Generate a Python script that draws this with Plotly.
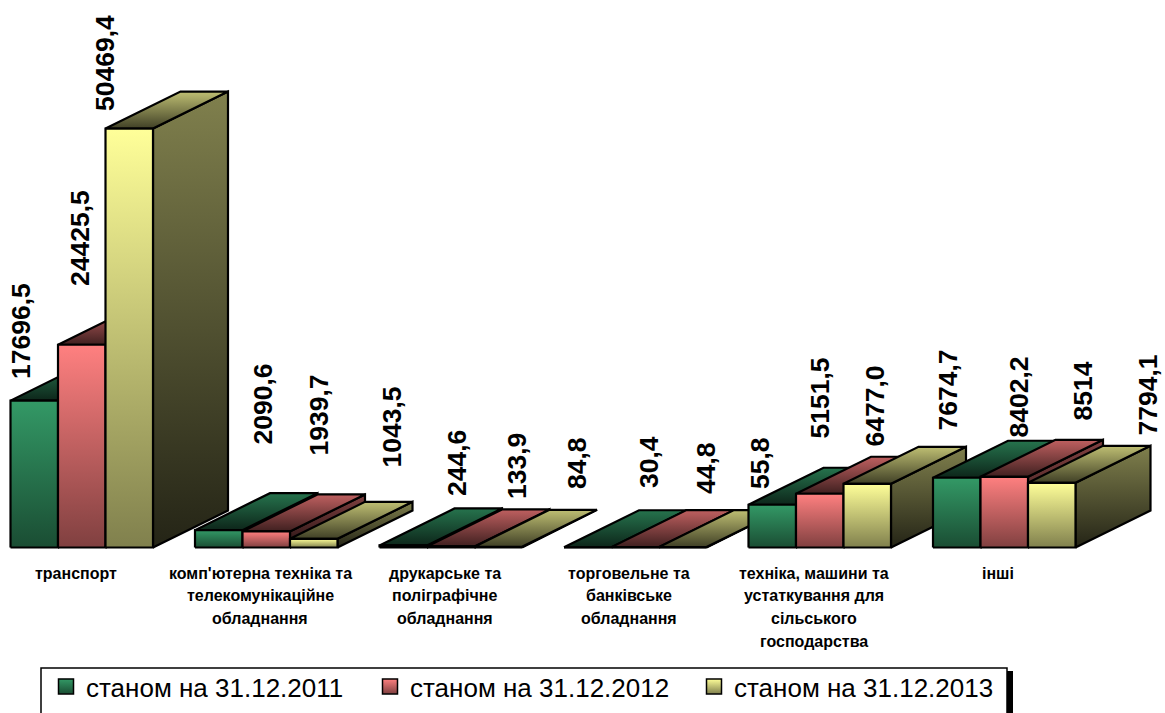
import plotly.graph_objects as go

categories = [
    ["транспорт"],
    ["комп'ютерна техніка та", "телекомунікаційне", "обладнання"],
    ["друкарське та", "поліграфічне", "обладнання"],
    ["торговельне та", "банківське", "обладнання"],
    ["техніка, машини та", "устаткування для", "сільського", "господарства"],
    ["інші"],
]
series_names = ["станом на 31.12.2011", "станом на 31.12.2012", "станом на 31.12.2013"]
s2011 = [17696.5, 2090.6, 244.6, 30.4, 5151.5, 8402.2]
s2012 = [24425.5, 1939.7, 133.9, 44.8, 6477.0, 8514.0]
s2013 = [50469.4, 1043.5, 84.8, 55.8, 7674.7, 7794.1]
labels2011 = ["17696,5", "2090,6", "244,6", "30,4", "5151,5", "8402,2"]
labels2012 = ["24425,5", "1939,7", "133,9", "44,8", "6477,0", "8514"]
labels2013 = ["50469,4", "1043,5", "84,8", "55,8", "7674,7", "7794,1"]
values = [s2011, s2012, s2013]
labels = [labels2011, labels2012, labels2013]

# Face colours per series: (bright, dark)
front_c = [("rgb(51,153,102)", "rgb(26,77,51)"),
           ("rgb(255,128,128)", "rgb(128,64,64)"),
           ("rgb(255,255,153)", "rgb(128,128,77)")]
top_c = [("rgb(38,115,77)", "rgb(13,38,26)"),
         ("rgb(191,96,96)", "rgb(64,32,32)"),
         ("rgb(191,191,115)", "rgb(64,64,38)")]
side_c = [("rgb(26,77,51)", "rgb(10,30,20)"),
          ("rgb(128,64,64)", "rgb(40,20,20)"),
          ("rgb(128,128,77)", "rgb(36,36,22)")]

W, H = 1165, 713
BASE_PX = 547.5
PX_PER_UNIT = 0.0083
GROUP_PX = 184.5
BAR = 47.5 / GROUP_PX
DX = 75 / GROUP_PX
DY = 37 / PX_PER_UNIT
X0_PX = 10.5 + 1.5 * 47.5

fig = go.Figure()


def face(xs, ys, colors, g0, g1):
    fig.add_trace(go.Scatter(
        x=xs + xs[:1], y=ys + ys[:1], mode="lines", fill="toself",
        line=dict(color="black", width=2.2), showlegend=False, hoverinfo="skip",
        fillgradient=dict(type="vertical", start=g0, stop=g1,
                          colorscale=[[0, colors[0]], [1, colors[1]]]),
    ))


for g in range(len(categories)):
    for s in range(3):
        v = values[s][g]
        l = g - 1.5 * BAR + s * BAR
        r = l + BAR
        face([r, r + DX, r + DX, r], [0, DY, v + DY, v], side_c[s], v + DY, 0)
        face([l, r, r + DX, l + DX], [v, v, v + DY, v + DY], top_c[s], v + DY, v)
        face([l, r, r, l], [0, 0, v, v], front_c[s], v, 0)

# Data labels were hand-placed in the source chart: target pixel (centre x, bottom y)
label_px = [
    [(21, 381), (263, 447), (457, 498), (649, 490), (820, 441), (1019, 440)],
    [(80, 288), (319, 458), (517, 501), (706, 496), (875, 449), (1083, 423)],
    [(105, 113), (392, 470), (577, 491), (760, 491), (947, 433), (1148, 438)],
]
ann = []
for s in range(3):
    for g in range(len(categories)):
        x = g - 1.5 * BAR + (s + 0.5) * BAR
        v = values[s][g]
        px, py = label_px[s][g]
        ann.append(dict(
            x=x, y=v, text=labels[s][g], textangle=-90, showarrow=False,
            xanchor="center", yanchor="bottom",
            xshift=px - (X0_PX + x * GROUP_PX),
            yshift=(BASE_PX - v * PX_PER_UNIT) - py,
            font=dict(family="Liberation Sans", size=26.5, color="black", weight="bold"),
        ))

# Category labels, one annotation per line (line pitch of the source is wide)
for g, lines in enumerate(categories):
    for k, line in enumerate(lines):
        ann.append(dict(
            x=g, y=0, text=line, showarrow=False, xanchor="center", yanchor="middle",
            xshift=-6, yshift=-(25.5 + 22.7 * k),
            font=dict(family="Liberation Sans", size=16, color="black", weight="bold"),
        ))

# Legend entries
for s in range(3):
    fig.add_trace(go.Scatter(
        x=[None], y=[None], mode="markers", name=series_names[s],
        marker=dict(symbol="square", size=15, color=front_c[s][0],
                    gradient=dict(type="vertical", color=front_c[s][1]),
                    line=dict(color="black", width=1.5)),
    ))

fig.update_layout(
    width=W, height=H, margin=dict(l=0, r=0, t=0, b=0, autoexpand=False),
    paper_bgcolor="white", plot_bgcolor="white",
    xaxis=dict(visible=False, range=[-X0_PX / GROUP_PX, (W - X0_PX) / GROUP_PX]),
    yaxis=dict(visible=False, range=[(BASE_PX - H) / PX_PER_UNIT, BASE_PX / PX_PER_UNIT]),
    annotations=ann,
    legend=dict(
        orientation="h", x=46 / W, y=1 - 663 / H, xanchor="left", yanchor="top",
        bgcolor="rgba(0,0,0,0)", borderwidth=0,
        font=dict(family="Liberation Sans", size=26, color="black"),
        entrywidth=279, entrywidthmode="pixels", itemwidth=30,
    ),
    shapes=[
        dict(type="rect", xref="paper", yref="paper", x0=41 / W, x1=1007 / W,
             y0=-0.01, y1=1 - 668 / H, fillcolor="rgba(0,0,0,0)",
             line=dict(color="black", width=1.5)),
        dict(type="rect", xref="paper", yref="paper", x0=1007 / W, x1=1013 / W,
             y0=0, y1=1 - 671 / H, fillcolor="black", line_width=0),
    ],
)
fig.write_html("out.html", config={"displayModeBar": False},
               post_script="document.body.style.margin='0';")
